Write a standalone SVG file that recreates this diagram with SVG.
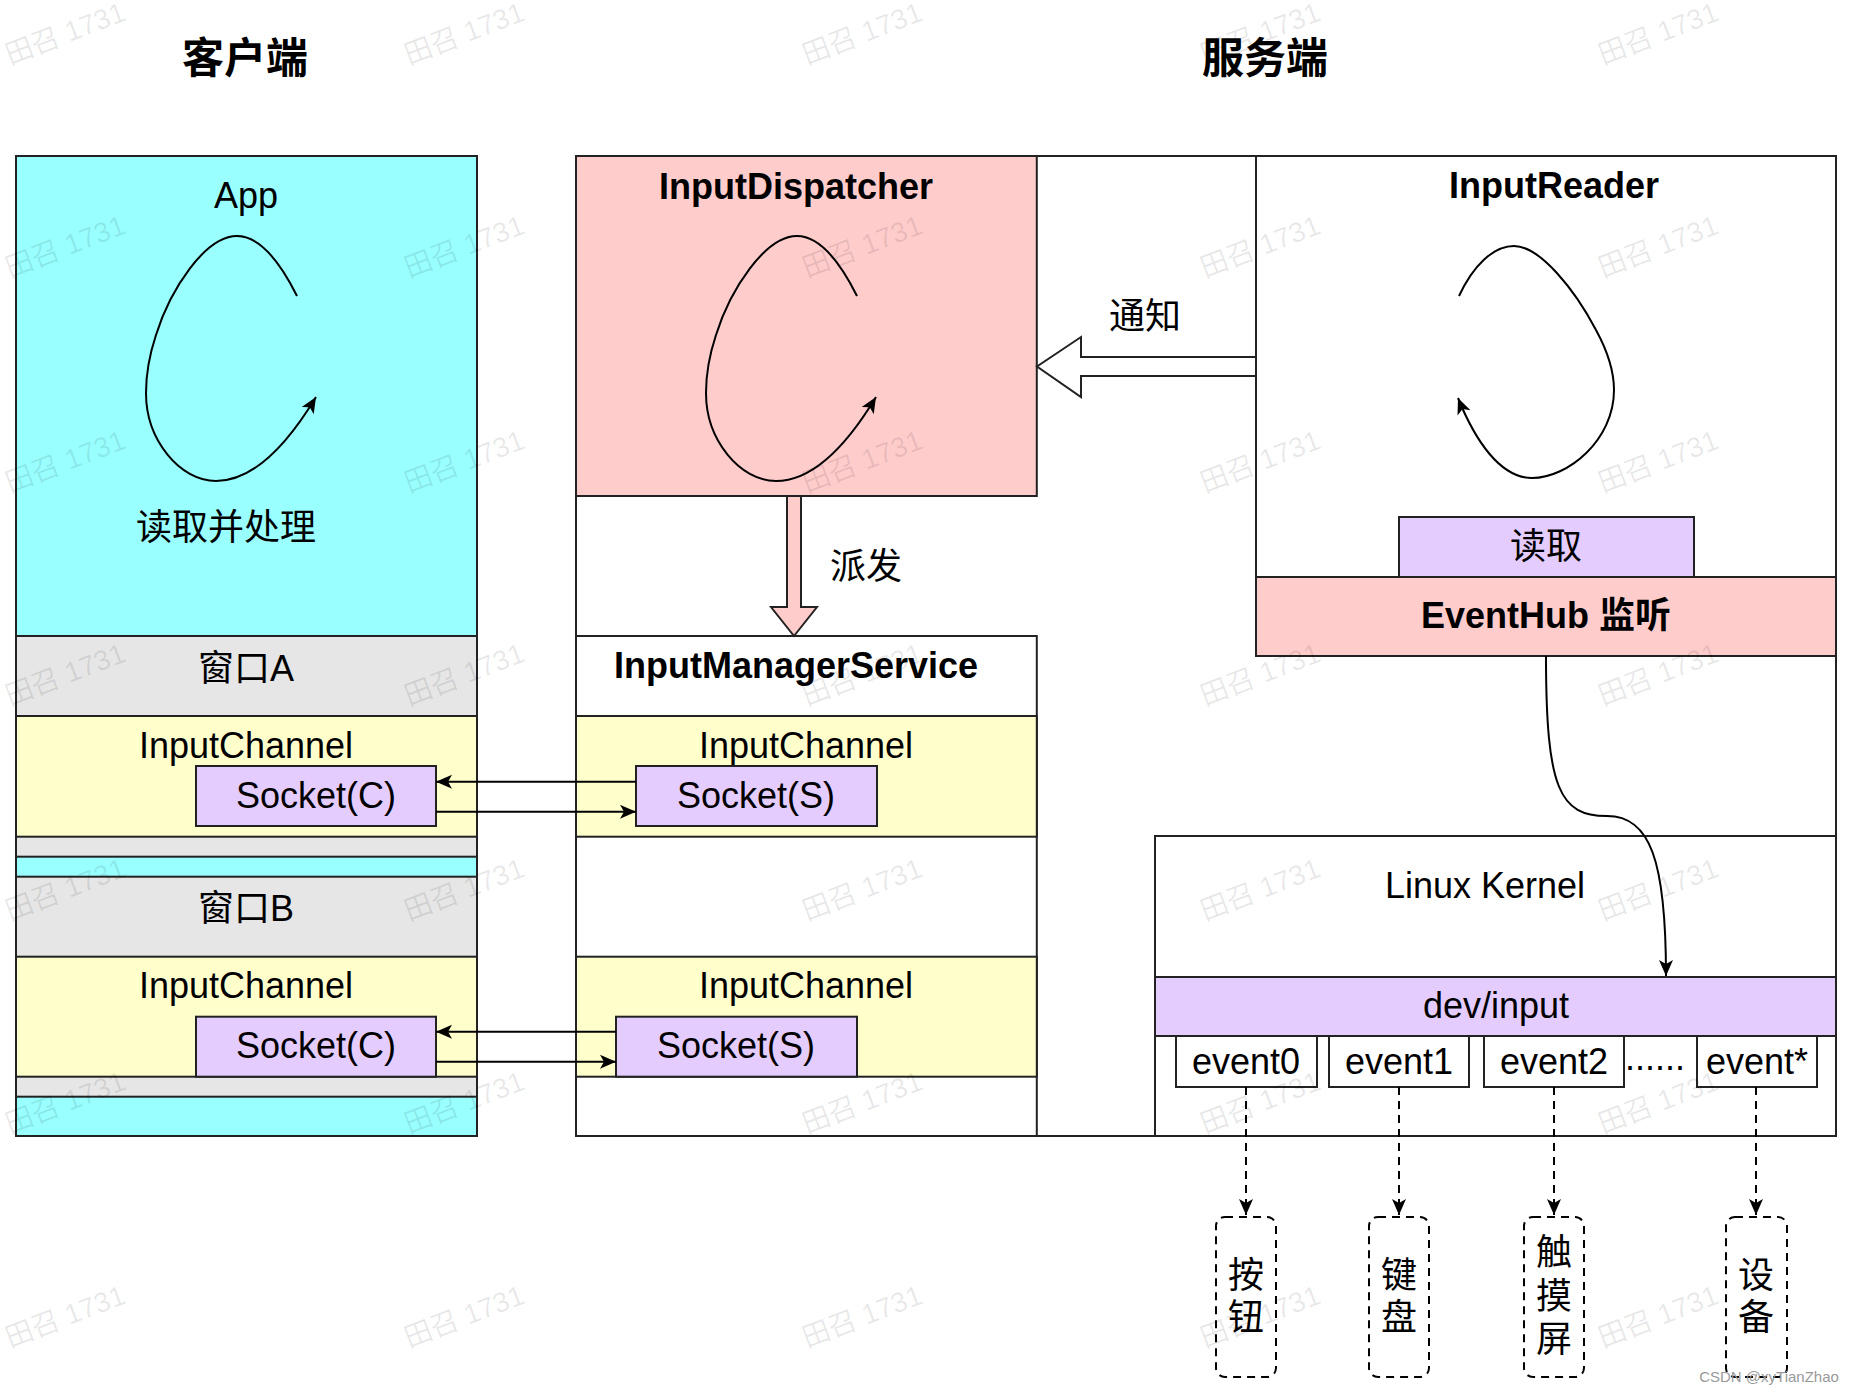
<svg xmlns="http://www.w3.org/2000/svg" width="1854" height="1394" viewBox="0 0 1854 1394">
<style>
  text { font-family: "Liberation Sans", Arial, "Noto Sans CJK SC", sans-serif; fill: #000; text-anchor: middle; }
  .t { font-size: 36px; }
  .b { font-size: 36px; font-weight: bold; }
  .h { font-size: 42px; font-weight: bold; }
  .box { stroke: #222; stroke-width: 2; }
  .cyan { fill: #99ffff; }
  .gray { fill: #e6e6e6; }
  .yel { fill: #ffffcc; }
  .pur { fill: #e5ccff; }
  .pink { fill: #ffcccc; }
  .wht { fill: #ffffff; }
  .line { fill: none; stroke: #000; stroke-width: 2; }
  .dash { fill: none; stroke: #000; stroke-width: 2; stroke-dasharray: 8 6; }
  .wm { font-size: 28px; fill: #000; fill-opacity: 0.09; }
</style>
<defs>
  <marker id="arr" markerUnits="userSpaceOnUse" markerWidth="20" markerHeight="20" viewBox="0 0 20 20" refX="18" refY="10" orient="auto">
    <path d="M2,3 L18,10 L2,17 L6,10 Z" fill="#000"/>
  </marker>
</defs>
<rect width="1854" height="1394" fill="#ffffff"/>

<!-- headers -->
<g id="header-client"><text class="h" x="245" y="73">客户端</text></g>
<g id="header-server"><text class="h" x="1265" y="73">服务端</text></g>

<!-- client column -->
<g id="app">
  <rect class="box cyan" x="16" y="156" width="461" height="980"/>
  <text class="t" x="246" y="208">App</text>
  <text class="t" x="226" y="540">读取并处理</text>
</g>
<g id="windowA">
  <rect class="box gray" x="16" y="636" width="461" height="220.7"/>
  <text class="t" x="246" y="681">窗口A</text>
  <rect class="box yel" x="16" y="716" width="461" height="120.7"/>
  <text class="t" x="246" y="758">InputChannel</text>
</g>
<g id="socketCA">
  <rect class="box pur" x="196" y="766" width="240" height="60"/>
  <text class="t" x="316" y="808">Socket(C)</text>
</g>
<g id="windowB">
  <rect class="box gray" x="16" y="876.7" width="461" height="220"/>
  <text class="t" x="246" y="921">窗口B</text>
  <rect class="box yel" x="16" y="956.7" width="461" height="120"/>
  <text class="t" x="246" y="998">InputChannel</text>
</g>
<g id="socketCB">
  <rect class="box pur" x="196" y="1016.7" width="240" height="60"/>
  <text class="t" x="316" y="1058">Socket(C)</text>
</g>

<!-- server outer -->
<g id="server">
  <rect class="box wht" x="576" y="156" width="1260" height="980"/>
</g>
<g id="inputDispatcher">
  <rect class="box pink" x="576" y="156" width="460.8" height="340"/>
  <text class="b" x="796" y="199">InputDispatcher</text>
</g>
<g id="inputManagerService">
  <rect class="box wht" x="576" y="636" width="460.8" height="500"/>
  <text class="b" x="796" y="678">InputManagerService</text>
  <rect class="box yel" x="576" y="716" width="460.8" height="120.7"/>
  <text class="t" x="806" y="758">InputChannel</text>
  <rect class="box yel" x="576" y="956.7" width="460.8" height="120"/>
  <text class="t" x="806" y="998">InputChannel</text>
</g>
<g id="socketSA">
  <rect class="box pur" x="636" y="766" width="241" height="60"/>
  <text class="t" x="756" y="808">Socket(S)</text>
</g>
<g id="socketSB">
  <rect class="box pur" x="616" y="1016.7" width="241" height="60"/>
  <text class="t" x="736" y="1058">Socket(S)</text>
</g>
<g id="inputReader">
  <rect class="box wht" x="1256" y="156" width="580" height="500"/>
  <text class="b" x="1554" y="198">InputReader</text>
</g>
<g id="read">
  <rect class="box pur" x="1399" y="517" width="295" height="60"/>
  <text class="t" x="1546" y="559">读取</text>
</g>
<g id="eventHub">
  <rect class="box pink" x="1256" y="577" width="580" height="79"/>
  <text class="b" x="1546" y="628">EventHub 监听</text>
</g>
<g id="linuxKernel">
  <rect class="box wht" x="1155" y="836" width="681" height="300"/>
  <text class="t" x="1485" y="898">Linux Kernel</text>
</g>
<g id="devInput">
  <rect class="box pur" x="1155" y="977" width="681" height="59"/>
  <text class="t" x="1496" y="1018">dev/input</text>
</g>
<g id="event0">
  <rect class="box wht" x="1176" y="1036" width="141" height="51"/>
  <text class="t" x="1246" y="1074">event0</text>
</g>
<g id="event1">
  <rect class="box wht" x="1329" y="1036" width="140" height="51"/>
  <text class="t" x="1399" y="1074">event1</text>
</g>
<g id="event2">
  <rect class="box wht" x="1484" y="1036" width="140" height="51"/>
  <text class="t" x="1554" y="1074">event2</text>
</g>
<g id="dots"><text class="t" x="1655" y="1070">......</text></g>
<g id="eventStar">
  <rect class="box wht" x="1697" y="1036" width="120" height="51"/>
  <text class="t" x="1757" y="1074">event*</text>
</g>

<!-- devices -->
<g id="dev-button">
  <rect class="dash" x="1216" y="1217" width="60" height="160" rx="9"/>
  <text class="t" x="1246" y="1288">按</text>
  <text class="t" x="1246" y="1330">钮</text>
</g>
<g id="dev-keyboard">
  <rect class="dash" x="1369" y="1217" width="60" height="160" rx="9"/>
  <text class="t" x="1399" y="1288">键</text>
  <text class="t" x="1399" y="1330">盘</text>
</g>
<g id="dev-touch">
  <rect class="dash" x="1524" y="1217" width="60" height="160" rx="9"/>
  <text class="t" x="1554" y="1265">触</text>
  <text class="t" x="1554" y="1309">摸</text>
  <text class="t" x="1554" y="1352">屏</text>
</g>
<g id="dev-device">
  <rect class="dash" x="1726" y="1217" width="61" height="160" rx="9"/>
  <text class="t" x="1756" y="1288">设</text>
  <text class="t" x="1756" y="1330">备</text>
</g>

<!-- connectors -->
<g id="connectors">
  <path class="line" marker-end="url(#arr)" d="M297,296 C282,266 262,236 237,236 C205,236 170,290 156,335 C149,356 146,375 146,393 C146,440 180,481 216,481 C255,481 290,440 316,397"/>
  <path class="line" marker-end="url(#arr)" d="M857,296 C842,266 822,236 797,236 C765,236 730,290 716,335 C709,356 706,375 706,393 C706,440 740,481 776,481 C815,481 850,440 876,397"/>
  <path class="line" marker-end="url(#arr)" d="M1459,296 C1473,266 1493,246 1514,246 C1540,246 1575,290 1596,330 C1608,352 1614,370 1614,390 C1614,440 1568,478 1532,478 C1500,478 1475,440 1458,398"/>
  <polygon class="box" fill="#ffffff" points="1256,357 1081,357 1081,337 1037,366.5 1081,397 1081,376 1256,376"/>
  <text class="t" x="1145" y="329">通知</text>
  <polygon class="box pink" points="787,496 787,607 771,607 794,636 817,607 801,607 801,496"/>
  <text class="t" x="866" y="579">派发</text>
  <path class="line" marker-end="url(#arr)" d="M636,781.7 L436,781.7"/>
  <path class="line" marker-end="url(#arr)" d="M436,811.7 L636,811.7"/>
  <path class="line" marker-end="url(#arr)" d="M616,1031.7 L436,1031.7"/>
  <path class="line" marker-end="url(#arr)" d="M436,1061.7 L616,1061.7"/>
  <path class="line" marker-end="url(#arr)" d="M1546,656 C1546,790 1560,816 1607,816 C1650,816 1666,860 1666,976"/>
  <path class="dash" marker-end="url(#arr)" d="M1246,1087 L1246,1215"/>
  <path class="dash" marker-end="url(#arr)" d="M1399,1087 L1399,1215"/>
  <path class="dash" marker-end="url(#arr)" d="M1554,1087 L1554,1215"/>
  <path class="dash" marker-end="url(#arr)" d="M1756,1087 L1756,1215"/>
</g>

<!-- watermarks -->
<g id="watermarks">
  <text class="wm" x="65" y="43" transform="rotate(-21 65 33)">田召 1731</text>
  <text class="wm" x="464" y="43" transform="rotate(-21 464 33)">田召 1731</text>
  <text class="wm" x="862" y="43" transform="rotate(-21 862 33)">田召 1731</text>
  <text class="wm" x="1260" y="43" transform="rotate(-21 1260 33)">田召 1731</text>
  <text class="wm" x="1658" y="43" transform="rotate(-21 1658 33)">田召 1731</text>
  <text class="wm" x="65" y="256" transform="rotate(-21 65 246)">田召 1731</text>
  <text class="wm" x="464" y="256" transform="rotate(-21 464 246)">田召 1731</text>
  <text class="wm" x="862" y="256" transform="rotate(-21 862 246)">田召 1731</text>
  <text class="wm" x="1260" y="256" transform="rotate(-21 1260 246)">田召 1731</text>
  <text class="wm" x="1658" y="256" transform="rotate(-21 1658 246)">田召 1731</text>
  <text class="wm" x="65" y="471" transform="rotate(-21 65 461)">田召 1731</text>
  <text class="wm" x="464" y="471" transform="rotate(-21 464 461)">田召 1731</text>
  <text class="wm" x="862" y="471" transform="rotate(-21 862 461)">田召 1731</text>
  <text class="wm" x="1260" y="471" transform="rotate(-21 1260 461)">田召 1731</text>
  <text class="wm" x="1658" y="471" transform="rotate(-21 1658 461)">田召 1731</text>
  <text class="wm" x="65" y="684" transform="rotate(-21 65 674)">田召 1731</text>
  <text class="wm" x="464" y="684" transform="rotate(-21 464 674)">田召 1731</text>
  <text class="wm" x="862" y="684" transform="rotate(-21 862 674)">田召 1731</text>
  <text class="wm" x="1260" y="684" transform="rotate(-21 1260 674)">田召 1731</text>
  <text class="wm" x="1658" y="684" transform="rotate(-21 1658 674)">田召 1731</text>
  <text class="wm" x="65" y="899" transform="rotate(-21 65 889)">田召 1731</text>
  <text class="wm" x="464" y="899" transform="rotate(-21 464 889)">田召 1731</text>
  <text class="wm" x="862" y="899" transform="rotate(-21 862 889)">田召 1731</text>
  <text class="wm" x="1260" y="899" transform="rotate(-21 1260 889)">田召 1731</text>
  <text class="wm" x="1658" y="899" transform="rotate(-21 1658 889)">田召 1731</text>
  <text class="wm" x="65" y="1112" transform="rotate(-21 65 1102)">田召 1731</text>
  <text class="wm" x="464" y="1112" transform="rotate(-21 464 1102)">田召 1731</text>
  <text class="wm" x="862" y="1112" transform="rotate(-21 862 1102)">田召 1731</text>
  <text class="wm" x="1260" y="1112" transform="rotate(-21 1260 1102)">田召 1731</text>
  <text class="wm" x="1658" y="1112" transform="rotate(-21 1658 1102)">田召 1731</text>
  <text class="wm" x="65" y="1326" transform="rotate(-21 65 1316)">田召 1731</text>
  <text class="wm" x="464" y="1326" transform="rotate(-21 464 1316)">田召 1731</text>
  <text class="wm" x="862" y="1326" transform="rotate(-21 862 1316)">田召 1731</text>
  <text class="wm" x="1260" y="1326" transform="rotate(-21 1260 1316)">田召 1731</text>
  <text class="wm" x="1658" y="1326" transform="rotate(-21 1658 1316)">田召 1731</text>
</g>
<g id="credit"><text x="1769" y="1382" style="font-size:15px; fill:#999999;">CSDN @xyTianZhao</text></g>
</svg>
